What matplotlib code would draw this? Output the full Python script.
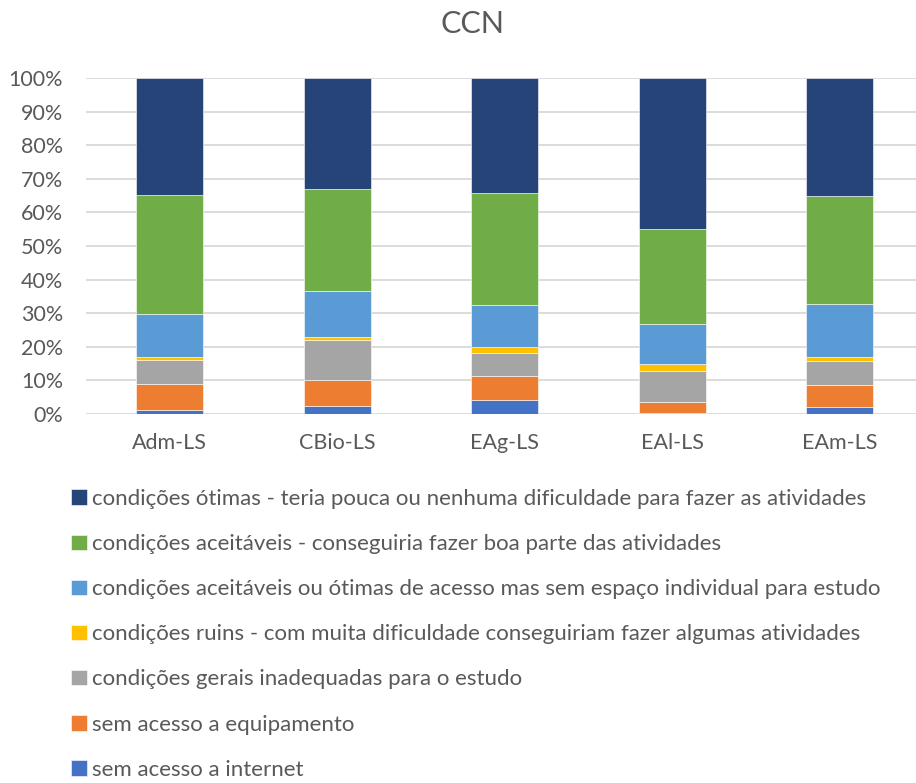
import matplotlib
matplotlib.use('Agg')
import matplotlib.pyplot as plt
import numpy as np

plt.rcParams['font.family'] = ['Lato', 'DejaVu Sans']

# cursos (eixo x)
cursos = ['Adm-LS', 'CBio-LS', 'EAg-LS', 'EAl-LS', 'EAm-LS']

# categorias, de baixo para cima na pilha
categorias = [
    'sem acesso a internet',
    'sem acesso a equipamento',
    'condições gerais inadequadas para o estudo',
    'condições ruins - com muita dificuldade conseguiriam fazer algumas atividades',
    'condições aceitáveis ou ótimas de acesso mas sem espaço individual para estudo',
    'condições aceitáveis - conseguiria fazer boa parte das atividades',
    'condições ótimas - teria pouca ou nenhuma dificuldade para fazer as atividades',
]

# valores em %
sem_internet = [1.2, 2.4, 4.2, 0.4, 2.1]
sem_equipamento = [7.8, 7.7, 7.2, 3.1, 6.6]
gerais_inadequadas = [7.2, 11.8, 6.9, 9.4, 7.0]
ruins = [0.7, 1.0, 1.6, 2.0, 1.2]
sem_espaco = [13.0, 13.7, 12.4, 11.8, 15.9]
aceitaveis = [35.3, 30.4, 33.4, 28.5, 32.2]
otimas = [34.8, 33.0, 34.3, 44.8, 35.0]

series = [sem_internet, sem_equipamento, gerais_inadequadas, ruins,
          sem_espaco, aceitaveis, otimas]
cores = ['#4472C4', '#ED7D31', '#A5A5A5', '#FFC000', '#5B9BD5', '#70AD47', '#264478']

texto = '#595959'

fig = plt.figure(figsize=(9.16, 7.83), dpi=100)
ax = fig.add_axes([86 / 916, 1 - 414 / 783, 1 - 86 / 916, (414 - 78) / 783])

x = np.arange(len(cursos))
base = np.zeros(len(cursos))
barras = []
for vals, cor, nome in zip(series, cores, categorias):
    b = ax.bar(x, vals, 0.4, bottom=base, color=cor, label=nome,
               edgecolor='white', linewidth=0.4, zorder=3)
    barras.append(b)
    base += np.array(vals)

ax.set_xlim(-0.5, 4.454)
ax.set_ylim(0, 100)
ax.set_yticks(np.arange(0, 101, 10))
ax.set_yticklabels([f'{v}%' for v in range(0, 101, 10)])
ax.set_xticks(x)
ax.set_xticklabels(cursos)
ax.yaxis.grid(True, color='#D9D9D9', linewidth=1.3, zorder=0)
for s in ax.spines.values():
    s.set_visible(False)
ax.tick_params(length=0, labelsize=15.5, colors=texto)
ax.tick_params(axis='y', pad=16.5)
ax.tick_params(axis='x', pad=14)

fig.text(473 / 916, 1 - 24 / 783, 'CCN', ha='center', va='center', fontsize=22, color=texto)

# legenda em ordem inversa (ótimas primeiro)
leg = fig.legend(barras[::-1], categorias[::-1], loc='upper left',
                 bbox_to_anchor=(71 / 916, 1 - 489 / 783), frameon=False,
                 fontsize=16, labelcolor=texto, handlelength=0.7, handleheight=0.7,
                 handletextpad=0.25, labelspacing=1.13, borderaxespad=0, borderpad=0)

fig.savefig('out.png', dpi=100)
